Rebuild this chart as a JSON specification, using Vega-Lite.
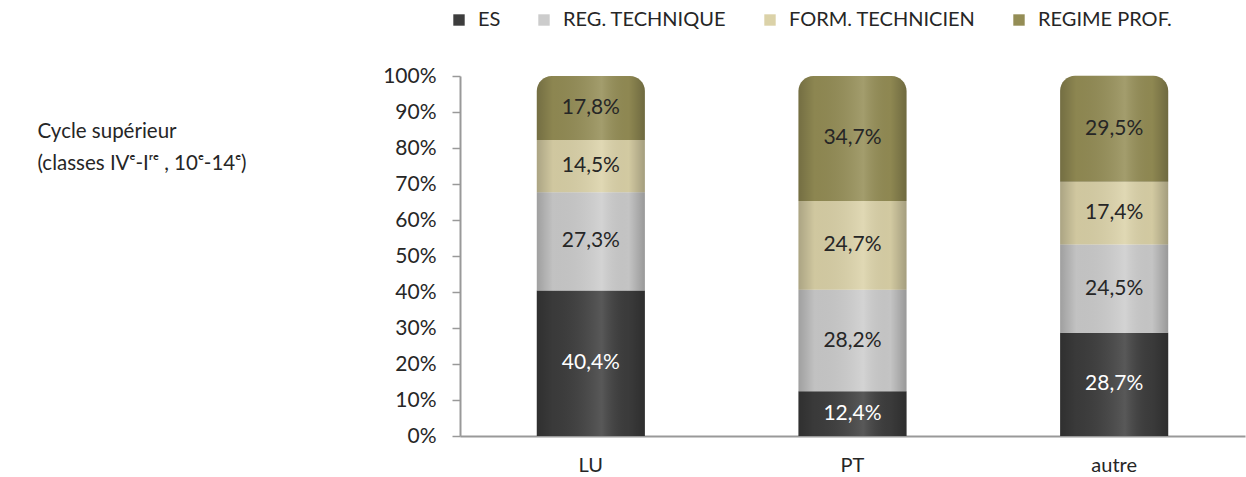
{
  "$schema": "https://vega.github.io/schema/vega-lite/v6.json",
  "width": 785,
  "height": 360,
  "autosize": "none",
  "padding": {"left": 460, "top": 76, "right": 1, "bottom": 41},
  "background": "white",
  "data": {
    "values": [
      {"cat": "LU", "series": "ES", "k": 1, "value": 0.404},
      {"cat": "LU", "series": "REG. TECHNIQUE", "k": 2, "value": 0.273},
      {"cat": "LU", "series": "FORM. TECHNICIEN", "k": 3, "value": 0.145},
      {"cat": "LU", "series": "REGIME PROF.", "k": 4, "value": 0.178},
      {"cat": "PT", "series": "ES", "k": 1, "value": 0.124},
      {"cat": "PT", "series": "REG. TECHNIQUE", "k": 2, "value": 0.282},
      {"cat": "PT", "series": "FORM. TECHNICIEN", "k": 3, "value": 0.247},
      {"cat": "PT", "series": "REGIME PROF.", "k": 4, "value": 0.347},
      {"cat": "autre", "series": "ES", "k": 1, "value": 0.287},
      {"cat": "autre", "series": "REG. TECHNIQUE", "k": 2, "value": 0.245},
      {"cat": "autre", "series": "FORM. TECHNICIEN", "k": 3, "value": 0.174},
      {"cat": "autre", "series": "REGIME PROF.", "k": 4, "value": 0.295}
    ]
  },
  "transform": [
    {"stack": "value", "groupby": ["cat"], "sort": [{"field": "k", "order": "ascending"}], "as": ["v0", "v1"]}
  ],
  "encoding": {
    "x": {
      "field": "cat", "type": "nominal", "sort": ["LU", "PT", "autre"],
      "scale": {"paddingInner": 0.587, "paddingOuter": 0.2935},
      "axis": {
        "title": null, "labelAngle": 0, "labelFontSize": 20, "labelColor": "#262626",
        "labelPadding": 19, "ticks": false, "domainColor": "#999999", "domainWidth": 2
      }
    },
    "y": {
      "field": "v0", "type": "quantitative",
      "scale": {"domain": [0, 1], "nice": false},
      "axis": {
        "format": ".0%", "values": [0, 0.1, 0.2, 0.3, 0.4, 0.5, 0.6, 0.7, 0.8, 0.9, 1],
        "labelFontSize": 21, "labelColor": "#262626", "labelPadding": 16,
        "tickSize": 8, "tickColor": "#999999", "domainColor": "#999999", "domainWidth": 2, "tickWidth": 1.5,
        "grid": false,
        "title": ["Cycle supérieur", "(classes IVᵉ-Iʳᵉ , 10ᵉ-14ᵉ)"],
        "titleAngle": 0, "titleAlign": "left", "titleBaseline": "alphabetic",
        "titleX": -423, "titleY": 61, "titleFontSize": 20.5, "titleFontWeight": "normal",
        "titleColor": "#262626", "titleLineHeight": 32
      }
    },
    "y2": {"field": "v1"}
  },
  "layer": [
    {
      "mark": {
        "type": "bar",
        "cornerRadiusTopLeft": {"expr": "datum.series === 'REGIME PROF.' ? 15 : 0"},
        "cornerRadiusTopRight": {"expr": "datum.series === 'REGIME PROF.' ? 15 : 0"}
      },
      "encoding": {
        "color": {
          "field": "series", "type": "nominal",
          "scale": {
            "domain": ["ES", "REG. TECHNIQUE", "FORM. TECHNICIEN", "REGIME PROF."],
            "range": ["#3d3d3d", "#cccccc", "#dbd2a8", "#948d55"]
          },
          "legend": {
            "title": null, "orient": "none", "direction": "horizontal",
            "legendX": -11, "legendY": -66, "symbolType": "square", "symbolSize": 130,
            "symbolStrokeWidth": 0, "labelFontSize": 20, "labelColor": "#262626",
            "labelLimit": 400, "columnPadding": 33, "labelOffset": 9
          }
        }
      }
    },
    {
      "mark": {
        "type": "bar",
        "cornerRadiusTopLeft": {"expr": "datum.series === 'REGIME PROF.' ? 15 : 0"},
        "cornerRadiusTopRight": {"expr": "datum.series === 'REGIME PROF.' ? 15 : 0"},
        "color": {
          "gradient": "linear", "x1": 0, "y1": 0, "x2": 1, "y2": 0,
          "stops": [
            {"offset": 0, "color": "rgba(0,0,0,0.22)"},
            {"offset": 0.15, "color": "rgba(0,0,0,0.05)"},
            {"offset": 0.6, "color": "rgba(255,255,255,0.14)"},
            {"offset": 0.85, "color": "rgba(0,0,0,0.04)"},
            {"offset": 1, "color": "rgba(0,0,0,0.25)"}
          ]
        }
      },
      "encoding": {"detail": {"field": "series"}}
    },
    {
      "mark": {
        "type": "text", "fontSize": 21, "baseline": "middle",
        "dy": {"expr": "-(datum.v1 - datum.v0) * height / 2"}
      },
      "encoding": {
        "text": {"field": "value", "type": "quantitative", "format": ".1%"},
        "color": {
          "condition": {"test": "datum.series === 'ES'", "value": "#ffffff"},
          "value": "#262626"
        }
      }
    }
  ],
  "config": {
    "font": "Lato",
    "view": {"stroke": null},
    "locale": {
      "number": {"decimal": ",", "thousands": " ", "grouping": [3], "currency": ["", " €"]}
    }
  }
}
